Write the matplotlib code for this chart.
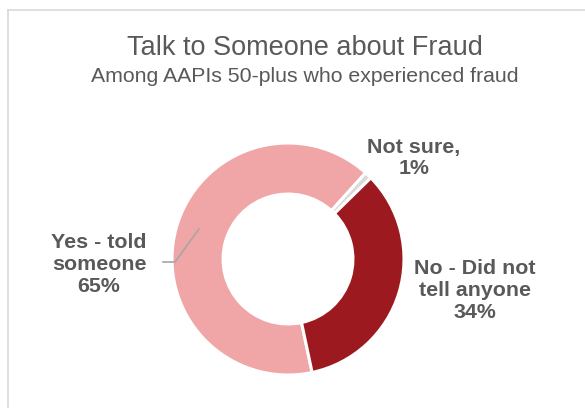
import matplotlib
matplotlib.use("Agg")

import matplotlib.pyplot as plt
from matplotlib.patches import Rectangle

plt.rcParams['font.family'] = ['Liberation Sans', 'DejaVu Sans']

# survey answers, clockwise order around the ring
answers = ['Yes - told\nsomeone', 'Not sure,', 'No - Did not\ntell anyone']
shares = [65, 1, 34]
colors = ['#F0A5A6', '#D9D9D9', '#9C1A1F']
text_gray = '#595959'

fig = plt.figure(figsize=(5.85, 4.08), dpi=100)

# thin frame around the chart area (open on the right and bottom)
fig.add_artist(plt.Line2D([8 / 585, 8 / 585], [0, 1 - 10 / 408],
                          color='#D9D9D9', linewidth=1.2))
fig.add_artist(plt.Line2D([8 / 585, 1], [1 - 10 / 408, 1 - 10 / 408],
                          color='#D9D9D9', linewidth=1.2))

fig.text(305 / 585, 1 - 48 / 408, 'Talk to Someone about Fraud',
         ha='center', va='center', fontsize=19.5, color=text_gray)
fig.text(305 / 585, 1 - 77 / 408, 'Among AAPIs 50-plus who experienced fraud',
         ha='center', va='center', fontsize=15.3, color=text_gray)

# donut centred at (288, 259) px with radius 116 px
cx, cy, r = 288, 259, 116
ax = fig.add_axes([(cx - r) / 585, (408 - cy - r) / 408, 2 * r / 585, 2 * r / 408])
ax.pie(shares, colors=colors, startangle=-78, counterclock=False, radius=1,
       wedgeprops=dict(width=0.44, edgecolor='white', linewidth=2.2))
ax.set_xlim(-1, 1)
ax.set_ylim(-1, 1)
ax.axis('off')


def px(x, y):
    return (x - cx) / r, (cy - y) / r


lab_style = dict(ha='center', va='center', fontsize=15.4, fontweight='bold',
                 color=text_gray, linespacing=1.2)

ax.text(*px(99, 264), f'{answers[0]}\n{shares[0]}%', **lab_style)
ax.text(*px(414, 158), f'{answers[1]}\n{shares[1]}%', **lab_style)
ax.text(*px(475, 291), f'{answers[2]}\n{shares[2]}%', **lab_style)

# leader line for the "Yes" label
lx, ly = zip(px(163, 262), px(175, 262), px(199, 229))
ax.plot(lx, ly, color='#A6A6A6', linewidth=1.2, clip_on=False)

fig.savefig('out.png', dpi=100)
